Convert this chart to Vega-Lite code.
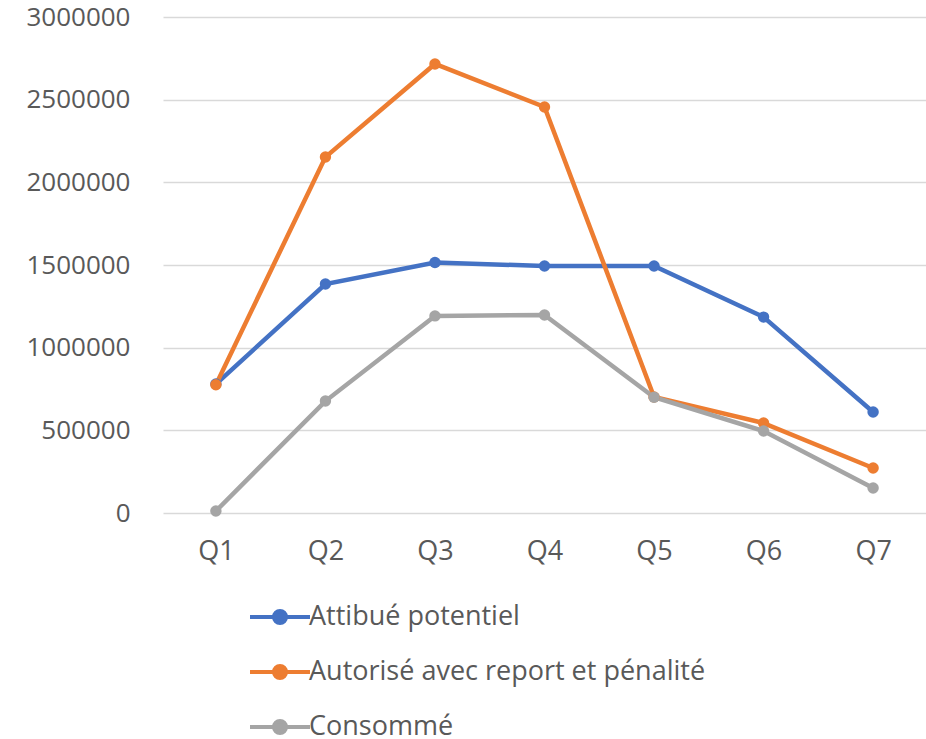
{
  "$schema": "https://vega.github.io/schema/vega-lite/v6.json",
  "width": 763,
  "height": 496,
  "autosize": {"type": "none"},
  "padding": {"left": 163, "top": 17, "right": 0, "bottom": 226},
  "background": "white",
  "config": {
    "view": {"stroke": null},
    "font": "Open Sans"
  },
  "data": {
    "values": [
      {"q": "Q1", "serie": "Attibué potentiel", "v": 780000},
      {"q": "Q2", "serie": "Attibué potentiel", "v": 1385000},
      {"q": "Q3", "serie": "Attibué potentiel", "v": 1515000},
      {"q": "Q4", "serie": "Attibué potentiel", "v": 1494000},
      {"q": "Q5", "serie": "Attibué potentiel", "v": 1494000},
      {"q": "Q6", "serie": "Attibué potentiel", "v": 1185000},
      {"q": "Q7", "serie": "Attibué potentiel", "v": 611000},
      {"q": "Q1", "serie": "Autorisé avec report et pénalité", "v": 776000},
      {"q": "Q2", "serie": "Autorisé avec report et pénalité", "v": 2153000},
      {"q": "Q3", "serie": "Autorisé avec report et pénalité", "v": 2716000},
      {"q": "Q4", "serie": "Autorisé avec report et pénalité", "v": 2456000},
      {"q": "Q5", "serie": "Autorisé avec report et pénalité", "v": 702000},
      {"q": "Q6", "serie": "Autorisé avec report et pénalité", "v": 544000},
      {"q": "Q7", "serie": "Autorisé avec report et pénalité", "v": 272000},
      {"q": "Q1", "serie": "Consommé", "v": 12000},
      {"q": "Q2", "serie": "Consommé", "v": 677000},
      {"q": "Q3", "serie": "Consommé", "v": 1192000},
      {"q": "Q4", "serie": "Consommé", "v": 1198000},
      {"q": "Q5", "serie": "Consommé", "v": 700000},
      {"q": "Q6", "serie": "Consommé", "v": 496000},
      {"q": "Q7", "serie": "Consommé", "v": 151000}
    ]
  },
  "encoding": {
    "x": {
      "field": "q", "type": "nominal",
      "scale": {"type": "point", "padding": 0.483},
      "axis": {"title": null, "labelAngle": 0, "domain": false, "ticks": false, "labelFontSize": 27, "labelColor": "#595959", "labelPadding": 25, "grid": false}
    },
    "y": {
      "field": "v", "type": "quantitative",
      "scale": {"domain": [0, 3000000], "nice": false},
      "axis": {"title": null, "values": [0, 500000, 1000000, 1500000, 2000000, 2500000, 3000000], "format": "d", "domain": false, "ticks": false, "labelFontSize": 26, "labelColor": "#595959", "labelPadding": 33, "gridColor": "#d9d9d9", "gridWidth": 1.5}
    },
    "color": {
      "field": "serie", "type": "nominal",
      "scale": {"domain": ["Attibué potentiel", "Autorisé avec report et pénalité", "Consommé"], "range": ["#4472C4", "#ED7D31", "#A5A5A5"]},
      "legend": {
        "title": null,
        "orient": "none",
        "legendX": 100,
        "legendY": 583,
        "direction": "vertical",
        "padding": 0,
        "symbolType": "M-2,0H2M-0.4,0A0.4,0.4,0,1,1,0.4,0A0.4,0.4,0,1,1,-0.4,0Z",
        "symbolSize": 900,
        "symbolStrokeWidth": 4,
        "symbolOpacity": 1,
        "labelFontSize": 27,
        "labelColor": "#595959",
        "labelOffset": 12,
        "rowPadding": 24,
        "labelLimit": 600
      }
    }
  },
  "layer": [
    {"mark": {"type": "line", "strokeWidth": 4.5}},
    {"mark": {"type": "point", "filled": true, "size": 130, "opacity": 1}}
  ]
}
